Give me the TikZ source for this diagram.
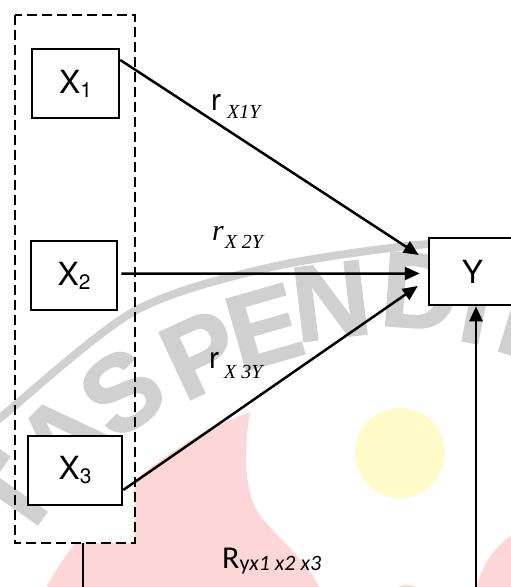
\documentclass[tikz,border=0pt]{standalone}
\usepackage{fontspec}
\setmainfont{TeX Gyre Heros}
\newfontfamily\timesfam{Liberation Serif}
\newfontfamily\calfam{Carlito}
\newfontfamily\wmfont{Liberation Sans Bold}[FakeBold=1.5]
\usetikzlibrary{arrows.meta,calc}

\definecolor{wmgray}{RGB}{208,208,208}
\definecolor{wmpink}{RGB}{253,215,215}
\definecolor{wmyellow}{RGB}{255,250,200}

\tikzset{
  var/.style={draw, line width=2.5bp, fill=white, minimum height=69bp,
    inner sep=0pt, font=\fontsize{32}{32}\selectfont},
  effect/.style={line width=2.5bp, -{Triangle[length=15bp,width=13bp]}},
  link/.style={line width=2.5bp},
  groupline/.style={line width=2.5bp, dash pattern=on 10bp off 5bp},
  lbl/.style={inner sep=0pt, anchor=base west},
  wm/.style={text=wmgray, inner sep=0pt,
    font=\wmfont\fontsize{108}{108}\selectfont}
}

\newcommand{\subsc}[1]{\raisebox{-4bp}{\fontsize{21}{21}\selectfont #1}}
\newcommand{\tsub}[2]{\raisebox{#1}{\timesfam\itshape\fontsize{20}{20}\selectfont #2}}

\begin{document}
\begin{tikzpicture}[x=1bp,y=-1bp]
\useasboundingbox (0,0) rectangle (511,587);

% --- background emblem ---
\fill[wmpink] (40,600) .. controls (80,515) and (170,440) .. (250,412)
  .. controls (244,450) and (243,495) .. (262,518)
  .. controls (285,545) and (312,565) .. (325,600) -- cycle;
\fill[wmpink] (560,605) circle[radius=85];
\fill[wmpink] (407,606) circle[radius=21];
\fill[wmyellow] (400,453) circle[radius=45];

% white interior of the grouping frame
\node[fill=white, minimum width=120bp, minimum height=528bp, inner sep=0pt]
  (grp) at (75,279) {};

% --- watermark lettering ---
\draw[wmgray, line width=8bp] plot[smooth] coordinates
  {(-10,425) (0,418) (133,312) (267,268) (417,245) (520,243)};
\node[wm, rotate=55] (wT)  at (12,497)  {T};
\node[wm, rotate=45] (wA)  at (62,438)  {A};
\node[wm, rotate=36] (wS)  at (122,392) {S};
\node[wm, rotate=25] (wP)  at (201,354) {P};
\node[wm, rotate=16] (wE)  at (264,327) {E};
\node[wm, rotate=7]  (wN)  at (331,301) {N};
\node[wm, rotate=-4] (wD)  at (420,291) {D};
\node[wm, rotate=-11] (wI) at (477,306) {I};
\node[wm, rotate=-17] (wD2) at (540,325) {D};

% --- grouping frame ---
\draw[groupline] (grp.north west) rectangle (grp.south east);

% --- variables ---
\node[var, minimum width=87bp] (X1) at (75.5,83.5) {X\subsc{1}};
\node[var, minimum width=86bp] (X2) at (74,275.5) {X\subsc{2}};
\node[var, minimum width=94bp] (X3) at (75,470.5) {X\subsc{3}};
\node[var, minimum width=87bp, minimum height=67bp] (Y) at (472.5,271.5) {Y};

% --- paths ---
\draw[effect] ([yshift=23.5bp]X1.east) -- ([xshift=-9bp,yshift=16.5bp]Y.west);
\draw[effect] ([xshift=3bp,yshift=2bp]X2.east) -- ([xshift=-8bp,yshift=-2bp]Y.west);
\draw[effect] ([yshift=-19.5bp]X3.east) -- ([xshift=-10bp,yshift=-14.5bp]Y.west);

\coordinate (drop) at (83,600);
\coordinate (feed) at (476,600);
\draw[link] (drop |- grp.south) -- (drop);
\draw[effect] (feed) -- (feed |- Y.south);

% --- coefficients ---
\node[lbl] (r1) at (211,111)
  {\fontsize{30}{30}\selectfont r\hspace{6bp}\tsub{-7.5bp}{X1Y}};
\node[lbl] (r2) at (212,240)
  {\fontsize{30}{30}\selectfont\timesfam\itshape r\hspace{1bp}\tsub{-8bp}{X 2Y}};
\node[lbl] (r3) at (209,368)
  {\fontsize{30}{30}\selectfont r\hspace{5bp}\tsub{-10bp}{X 3Y}};
\node[lbl] (R) at (222,568)
  {\calfam\fontsize{32}{32}\selectfont R\raisebox{-2.5bp}{\fontsize{22}{22}\selectfont y\itshape x1 x2 x3}};
\end{tikzpicture}
\end{document}
